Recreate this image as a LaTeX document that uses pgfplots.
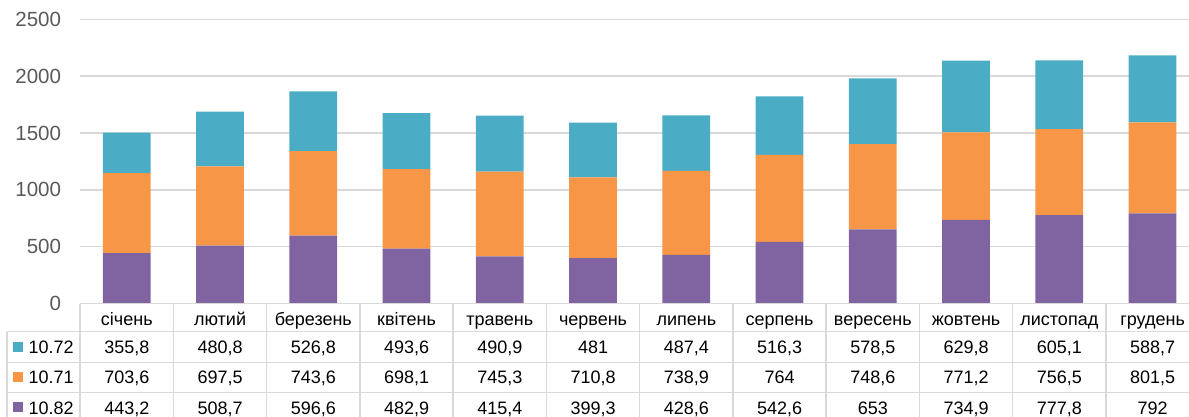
\documentclass[border=0pt]{standalone}
\usepackage{pgfplots}
\pgfplotsset{compat=1.18}
\usepackage{pgfplotstable}
\usepackage{fontspec}
\setmainfont{Liberation Sans}
\definecolor{cA}{HTML}{8064A2}
\definecolor{cB}{HTML}{F79646}
\definecolor{cC}{HTML}{4BACC6}
\definecolor{gridc}{HTML}{D9D9D9}
\definecolor{tickc}{HTML}{595959}

% a = 10.82, b = 10.71, c = 10.72
\pgfplotstableread{
idx a b c
0 443.2 703.6 355.8
1 508.7 697.5 480.8
2 596.6 743.6 526.8
3 482.9 698.1 493.6
4 415.4 745.3 490.9
5 399.3 710.8 481
6 428.6 738.9 487.4
7 542.6 764 516.3
8 653 748.6 578.5
9 734.9 771.2 629.8
10 777.8 756.5 605.1
11 792 801.5 588.7
}\data

\newcommand{\tfont}{\fontsize{18pt}{22pt}\selectfont}

\begin{document}
\begin{tikzpicture}
\useasboundingbox (0,0) rectangle (1189pt,416pt);
\clip (0,0) rectangle (1189pt,416pt);
\begin{axis}[
  at={(80.2pt,112.5pt)}, anchor=south west,
  scale only axis, width=1119pt, height=284.2pt,
  xmin=-0.5, xmax=11.5, ymin=0, ymax=2500,
  ybar stacked, bar width=47.7pt,
  axis line style={draw=none}, major tick length=0pt,
  ymajorgrids, grid style={gridc, line width=1.5pt},
  ytick={0,500,1000,1500,2000,2500},
  yticklabel style={/pgf/number format/1000 sep={}},
  xtick={0,...,11},
  xticklabels={січень,лютий,березень,квітень,травень,червень,липень,серпень,вересень,жовтень,листопад,грудень},
  xticklabel style={anchor=base, yshift=-22pt, inner sep=0pt, font=\tfont, text=black},
  yticklabel style={anchor=east, inner sep=0pt, xshift=-19pt, font=\fontsize{20.5pt}{24pt}\selectfont, text=tickc},
  /pgf/number format/assume math mode=true,
  /pgf/number format/1000 sep={},
  clip=false,
]
\addplot[fill=cA, draw=none] table[x=idx, y=a]{\data};
\addplot[fill=cB, draw=none] table[x=idx, y=b]{\data};
\addplot[fill=cC, draw=none] table[x=idx, y=c]{\data};
\end{axis}

\begin{axis}[
  at={(80.2pt,112.5pt)}, anchor=south west,
  scale only axis, width=1119pt, height=284.2pt,
  xmin=0, xmax=1119, ymin=0, ymax=284.2,
  hide axis, clip=false,
  /pgf/number format/use comma,
  /pgf/number format/assume math mode=true,
  every node near coord/.append style={anchor=base, inner sep=0pt, font=\tfont, text=black},
]
\addplot[draw=none, mark=none, nodes near coords, point meta=\thisrow{c}]
  table[x expr=\thisrow{idx}*93.25+46.625, y expr=-50]{\data};
\addplot[draw=none, mark=none, nodes near coords, point meta=\thisrow{b}]
  table[x expr=\thisrow{idx}*93.25+46.625, y expr=-80.2]{\data};
\addplot[draw=none, mark=none, nodes near coords, point meta=\thisrow{a}]
  table[x expr=\thisrow{idx}*93.25+46.625, y expr=-110.5]{\data};
\end{axis}

% table grid
\begin{scope}[gridc, line width=1.5pt]
  \draw (80.2pt,112.5pt) -- (1200pt,112.5pt);
  \draw (7pt,84.3pt) -- (1200pt,84.3pt);
  \draw (7pt,53.7pt) -- (1200pt,53.7pt);
  \draw (7pt,23.3pt) -- (1200pt,23.3pt);
  \draw (7pt,84.3pt) -- (7pt,-10pt);
  \foreach \k in {0,...,11} {
    \draw ({80.2pt+\k*93.25pt},112.5pt) -- ({80.2pt+\k*93.25pt},-10pt);
  }
\end{scope}

% legend column
\fill[cC] (12.7pt,63.7pt) rectangle ++(10pt,10pt);
\fill[cB] (12.7pt,33.7pt) rectangle ++(10pt,10pt);
\fill[cA] (12.7pt,3.7pt) rectangle ++(10pt,10pt);
\node[anchor=base west, inner sep=0pt, font=\tfont] at (28.3pt,62.5pt) {10.72};
\node[anchor=base west, inner sep=0pt, font=\tfont] at (28.3pt,32.3pt) {10.71};
\node[anchor=base west, inner sep=0pt, font=\tfont] at (28.3pt,2pt) {10.82};
\end{tikzpicture}
\end{document}
